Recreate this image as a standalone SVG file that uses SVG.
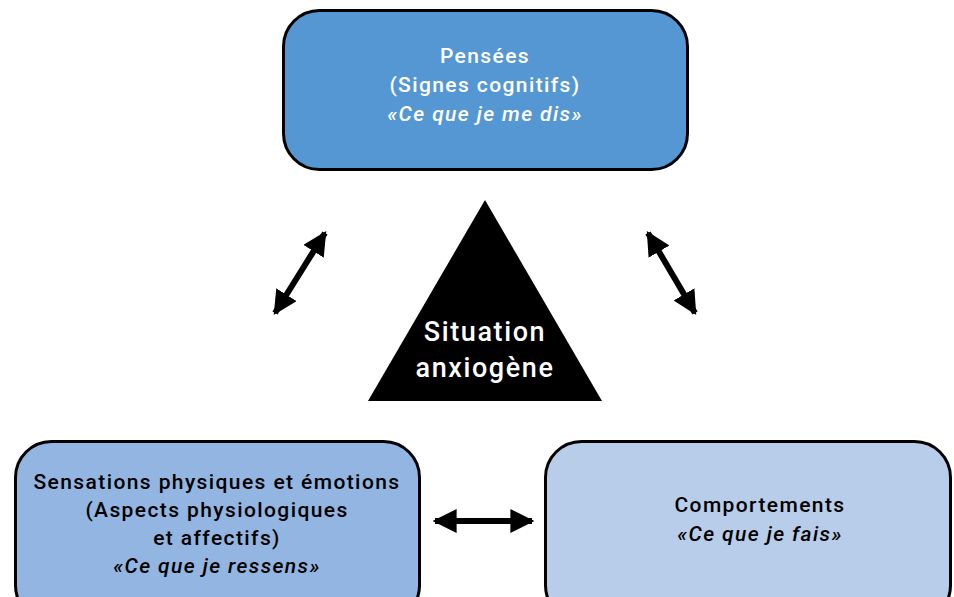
<svg xmlns="http://www.w3.org/2000/svg" width="954" height="597" viewBox="0 0 954 597">
<defs>
<style>
.box{stroke:#000;stroke-width:3}
.t{font-family:Roboto,"Liberation Sans",sans-serif;font-size:21px;font-weight:500;text-anchor:middle;letter-spacing:1.4px}
.w{fill:#fff}
.k{fill:#000}
.i{font-style:italic}
.conn{stroke:#000;stroke-width:6;fill:none;marker-start:url(#ah);marker-end:url(#ah)}
</style>
<marker id="ah" viewBox="0 0 10 10" refX="9" refY="5" markerWidth="4" markerHeight="4" orient="auto-start-reverse" markerUnits="strokeWidth">
<path d="M0,0 L10,5 L0,10 Z" fill="#000"/>
</marker>
</defs>
<rect width="954" height="597" fill="#fff"/>
<g id="pensees">
<rect class="box" x="283.5" y="10.5" width="404" height="159" rx="36" fill="#5597d3"/>
<text class="t w" x="485" y="63">Pensées</text>
<text class="t w" x="485" y="92">(Signes cognitifs)</text>
<text class="t w i" x="485" y="121">«Ce que je me dis»</text>
</g>
<g id="situation">
<polygon points="485,200 368,401 602,401" fill="#000"/>
<text class="t w" style="font-size:27px;letter-spacing:1.6px" x="485" y="341">Situation</text>
<text class="t w" style="font-size:27px;letter-spacing:1.6px" x="485" y="377">anxiogène</text>
</g>
<g id="sensations">
<rect class="box" x="15.5" y="441.5" width="404" height="180" rx="36" fill="#93b5e1"/>
<text class="t k" x="217" y="489">Sensations physiques et émotions</text>
<text class="t k" x="217" y="517">(Aspects physiologiques</text>
<text class="t k" x="217" y="545">et affectifs)</text>
<text class="t k i" x="217" y="573">«Ce que je ressens»</text>
</g>
<g id="comportements">
<rect class="box" x="545.5" y="441.5" width="405" height="180" rx="36" fill="#b8cde9"/>
<text class="t k" x="760" y="512">Comportements</text>
<text class="t k i" x="760" y="541">«Ce que je fais»</text>
</g>
<g id="connectors">
<line class="conn" x1="275" y1="313" x2="325" y2="233"/>
<line class="conn" x1="648" y1="233" x2="695" y2="313"/>
<line class="conn" x1="435" y1="521" x2="532" y2="521"/>
</g>
</svg>
